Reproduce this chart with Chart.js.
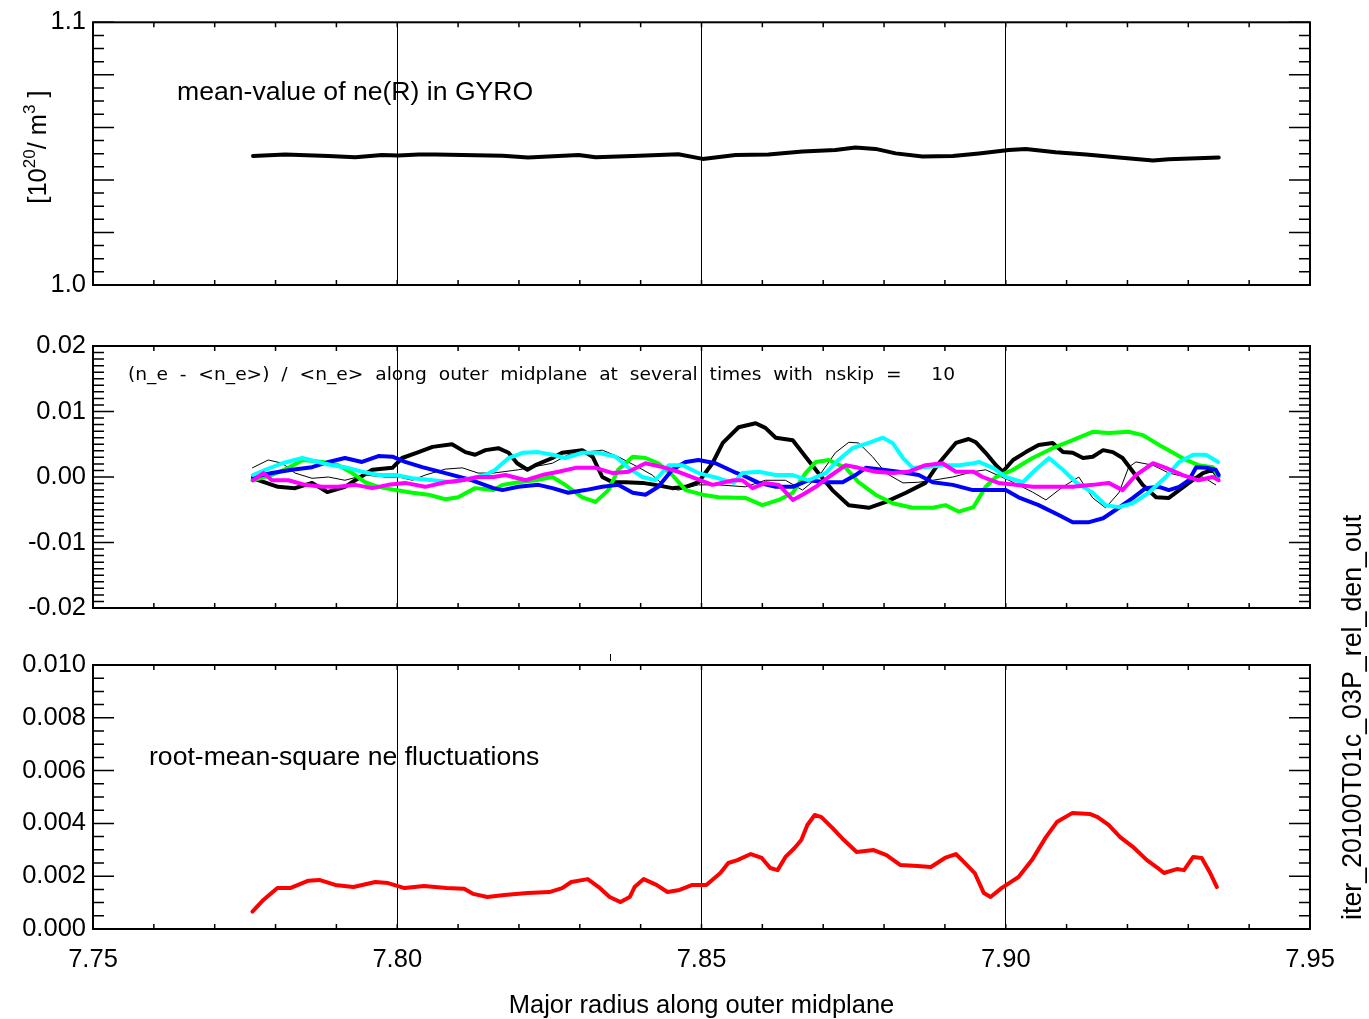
<!DOCTYPE html>
<html>
<head>
<meta charset="utf-8">
<title>iter_20100T01c_03P_rel_den_out</title>
<script src="https://cdn.jsdelivr.net/npm/chart.js"></script>
<style>
	body { margin: 0; background: #fff; }
	#wrap { position: relative; width: 1369px; height: 1019px; }
	#wrap canvas { position: absolute; left: 0; top: 0; }
</style>
</head>
<body>
<div id="wrap">
	<canvas id="mean" width="1369" height="1019"></canvas>
	<canvas id="fluct" width="1369" height="1019"></canvas>
	<canvas id="rms" width="1369" height="1019"></canvas>
</div>
<script>
// x axis (major radius) ticks
const xTicks = [7.75, 7.80, 7.85, 7.90, 7.95];

// top panel: mean ne(R)
const meanR = [7.7763, 7.7816, 7.7887, 7.7931, 7.7975, 7.8002, 7.8035, 7.8063, 7.8173, 7.8215, 7.8298, 7.8326, 7.8387, 7.8462, 7.8502, 7.8556, 7.8610, 7.8666, 7.8720, 7.8753, 7.8786, 7.8819, 7.8863, 7.8913, 7.8956, 7.9005, 7.9033, 7.9082, 7.9132, 7.9186, 7.9242, 7.9268, 7.9350];
const meanNe = [1.0491, 1.0497, 1.0491, 1.0486, 1.0495, 1.0493, 1.0497, 1.0497, 1.0492, 1.0485, 1.0495, 1.0486, 1.0491, 1.0498, 1.0480, 1.0495, 1.0497, 1.0508, 1.0514, 1.0523, 1.0518, 1.0501, 1.0489, 1.0491, 1.0501, 1.0514, 1.0518, 1.0505, 1.0497, 1.0485, 1.0474, 1.0479, 1.0485];
const meanTicks = [1.0, 1.1];

// middle panel: (ne - <ne>)/<ne> at several times
const rK = [7.7763, 7.7804, 7.7832, 7.7860, 7.7885, 7.7914, 7.7931, 7.7959, 7.7992, 7.8008, 7.8035, 7.8058, 7.8090, 7.8112, 7.8128, 7.8145, 7.8166, 7.8183, 7.8197, 7.8214, 7.8227, 7.8255, 7.8271, 7.8304, 7.8321, 7.8337, 7.8354, 7.8375, 7.8403, 7.8424, 7.8452, 7.8474, 7.8495, 7.8518, 7.8535, 7.8561, 7.8589, 7.8605, 7.8622, 7.8650, 7.8671, 7.8692, 7.8715, 7.8742, 7.8775, 7.8803, 7.8836, 7.8868, 7.8890, 7.8918, 7.8939, 7.8951, 7.8967, 7.8984, 7.8995, 7.9012, 7.9033, 7.9054, 7.9077, 7.9094, 7.9110, 7.9127, 7.9143, 7.9160, 7.9176, 7.9192, 7.9209, 7.9225, 7.9247, 7.9268, 7.9285, 7.9301, 7.9324, 7.9340, 7.9349];
const dK = [-0.0002, -0.0015, -0.0017, -0.0009, -0.0023, -0.0015, -0.0005, 0.0011, 0.0014, 0.0029, 0.0038, 0.0046, 0.0050, 0.0038, 0.0034, 0.0041, 0.0044, 0.0037, 0.0021, 0.0011, 0.0018, 0.0029, 0.0037, 0.0041, 0.0031, 0.0000, -0.0008, -0.0008, -0.0009, -0.0012, -0.0017, -0.0015, -0.0008, 0.0021, 0.0052, 0.0076, 0.0082, 0.0075, 0.0060, 0.0056, 0.0031, 0.0006, -0.0020, -0.0043, -0.0047, -0.0038, -0.0024, -0.0009, 0.0021, 0.0052, 0.0058, 0.0053, 0.0037, 0.0018, 0.0008, 0.0026, 0.0038, 0.0049, 0.0052, 0.0038, 0.0037, 0.0029, 0.0031, 0.0041, 0.0038, 0.0029, 0.0008, -0.0012, -0.0031, -0.0032, -0.0020, -0.0009, 0.0006, 0.0011, 0.0000];

const rT = [7.7762, 7.7788, 7.7811, 7.7832, 7.7860, 7.7887, 7.7914, 7.7947, 7.7980, 7.8002, 7.8025, 7.8046, 7.8079, 7.8107, 7.8133, 7.8158, 7.8199, 7.8255, 7.8281, 7.8309, 7.8337, 7.8363, 7.8396, 7.8419, 7.8441, 7.8462, 7.8495, 7.8528, 7.8572, 7.8605, 7.8638, 7.8666, 7.8692, 7.8720, 7.8742, 7.8758, 7.8781, 7.8803, 7.8831, 7.8857, 7.8880, 7.8913, 7.8946, 7.8967, 7.9005, 7.9044, 7.9066, 7.9094, 7.9120, 7.9143, 7.9164, 7.9186, 7.9202, 7.9214, 7.9242, 7.9268, 7.9296, 7.9324, 7.9345];
const dT = [0.0014, 0.0026, 0.0021, 0.0006, -0.0002, 0.0000, -0.0005, 0.0003, 0.0000, 0.0000, -0.0005, 0.0003, 0.0012, 0.0014, 0.0006, 0.0006, 0.0011, 0.0021, 0.0034, 0.0038, 0.0041, 0.0031, 0.0015, 0.0003, -0.0015, -0.0020, -0.0012, -0.0012, -0.0015, -0.0005, -0.0005, -0.0020, 0.0000, 0.0037, 0.0053, 0.0052, 0.0031, 0.0006, -0.0009, -0.0008, -0.0005, 0.0000, 0.0008, 0.0011, -0.0005, -0.0023, -0.0035, -0.0015, 0.0000, -0.0032, -0.0047, -0.0024, 0.0015, 0.0023, 0.0018, 0.0006, 0.0000, 0.0000, -0.0012];

const rG = [7.7762, 7.7794, 7.7821, 7.7845, 7.7877, 7.7903, 7.7926, 7.7947, 7.7969, 7.7997, 7.8025, 7.8051, 7.8079, 7.8100, 7.8128, 7.8158, 7.8173, 7.8199, 7.8227, 7.8255, 7.8276, 7.8304, 7.8326, 7.8347, 7.8363, 7.8387, 7.8408, 7.8429, 7.8452, 7.8474, 7.8502, 7.8528, 7.8572, 7.8600, 7.8627, 7.8650, 7.8671, 7.8688, 7.8709, 7.8737, 7.8758, 7.8786, 7.8814, 7.8847, 7.8880, 7.8901, 7.8923, 7.8947, 7.8967, 7.8984, 7.9012, 7.9044, 7.9077, 7.9099, 7.9120, 7.9143, 7.9169, 7.9202, 7.9225, 7.9252, 7.9275, 7.9296, 7.9317, 7.9340, 7.9350];
const dG = [-0.0005, 0.0003, 0.0014, 0.0026, 0.0023, 0.0018, 0.0006, -0.0008, -0.0015, -0.0020, -0.0024, -0.0027, -0.0034, -0.0031, -0.0017, -0.0020, -0.0012, -0.0008, -0.0005, 0.0000, -0.0012, -0.0031, -0.0038, -0.0020, 0.0011, 0.0031, 0.0029, 0.0021, 0.0003, -0.0020, -0.0027, -0.0031, -0.0032, -0.0043, -0.0035, -0.0024, 0.0006, 0.0023, 0.0026, 0.0014, -0.0008, -0.0027, -0.0040, -0.0047, -0.0047, -0.0043, -0.0053, -0.0046, -0.0015, 0.0000, 0.0011, 0.0029, 0.0044, 0.0052, 0.0060, 0.0069, 0.0067, 0.0069, 0.0064, 0.0049, 0.0037, 0.0026, 0.0018, 0.0015, 0.0000];

const rB = [7.7763, 7.7794, 7.7827, 7.7860, 7.7887, 7.7914, 7.7942, 7.7969, 7.7992, 7.8013, 7.8041, 7.8079, 7.8123, 7.8158, 7.8173, 7.8199, 7.8232, 7.8255, 7.8281, 7.8309, 7.8337, 7.8363, 7.8387, 7.8408, 7.8429, 7.8452, 7.8474, 7.8495, 7.8523, 7.8553, 7.8567, 7.8594, 7.8622, 7.8650, 7.8676, 7.8704, 7.8732, 7.8753, 7.8770, 7.8798, 7.8824, 7.8857, 7.8880, 7.8913, 7.8946, 7.8979, 7.9000, 7.9021, 7.9054, 7.9087, 7.9110, 7.9137, 7.9160, 7.9181, 7.9209, 7.9230, 7.9252, 7.9268, 7.9285, 7.9301, 7.9313, 7.9329, 7.9345, 7.9350];
const dB = [0.0000, 0.0006, 0.0011, 0.0015, 0.0023, 0.0029, 0.0023, 0.0032, 0.0031, 0.0023, 0.0015, 0.0006, -0.0005, -0.0017, -0.0020, -0.0015, -0.0012, -0.0017, -0.0024, -0.0020, -0.0015, -0.0012, -0.0024, -0.0027, -0.0015, 0.0011, 0.0023, 0.0026, 0.0021, 0.0008, 0.0003, -0.0009, -0.0015, -0.0015, -0.0005, -0.0008, -0.0008, 0.0003, 0.0014, 0.0011, 0.0008, 0.0003, -0.0008, -0.0012, -0.0020, -0.0020, -0.0020, -0.0031, -0.0043, -0.0058, -0.0069, -0.0069, -0.0063, -0.0050, -0.0032, -0.0017, -0.0015, -0.0020, -0.0015, -0.0005, 0.0015, 0.0014, 0.0011, 0.0003];

const rC = [7.7763, 7.7783, 7.7811, 7.7844, 7.7870, 7.7893, 7.7914, 7.7942, 7.7969, 7.7997, 7.8025, 7.8058, 7.8090, 7.8123, 7.8145, 7.8161, 7.8183, 7.8206, 7.8232, 7.8255, 7.8276, 7.8304, 7.8331, 7.8359, 7.8380, 7.8403, 7.8424, 7.8446, 7.8469, 7.8495, 7.8528, 7.8553, 7.8567, 7.8594, 7.8622, 7.8650, 7.8676, 7.8704, 7.8725, 7.8748, 7.8775, 7.8798, 7.8814, 7.8831, 7.8847, 7.8868, 7.8896, 7.8923, 7.8947, 7.8956, 7.8979, 7.9000, 7.9028, 7.9049, 7.9071, 7.9094, 7.9115, 7.9143, 7.9164, 7.9186, 7.9209, 7.9235, 7.9263, 7.9285, 7.9308, 7.9329, 7.9349];
const dC = [0.0003, 0.0011, 0.0021, 0.0029, 0.0023, 0.0018, 0.0015, 0.0008, 0.0003, 0.0003, -0.0002, -0.0005, -0.0008, -0.0002, 0.0003, 0.0011, 0.0029, 0.0037, 0.0038, 0.0034, 0.0029, 0.0037, 0.0037, 0.0031, 0.0014, 0.0000, -0.0005, 0.0018, 0.0018, 0.0006, -0.0002, -0.0009, 0.0006, 0.0008, 0.0003, 0.0003, -0.0005, 0.0006, 0.0026, 0.0044, 0.0052, 0.0060, 0.0052, 0.0029, 0.0014, 0.0015, 0.0018, 0.0018, 0.0021, 0.0023, 0.0014, 0.0000, -0.0008, 0.0011, 0.0029, 0.0011, -0.0008, -0.0024, -0.0043, -0.0046, -0.0040, -0.0024, 0.0000, 0.0023, 0.0034, 0.0034, 0.0023];

const rM = [7.7763, 7.7780, 7.7794, 7.7821, 7.7849, 7.7877, 7.7903, 7.7931, 7.7959, 7.7985, 7.8013, 7.8046, 7.8079, 7.8107, 7.8133, 7.8158, 7.8178, 7.8211, 7.8238, 7.8265, 7.8293, 7.8326, 7.8354, 7.8380, 7.8408, 7.8436, 7.8462, 7.8490, 7.8518, 7.8553, 7.8567, 7.8584, 7.8605, 7.8627, 7.8650, 7.8666, 7.8688, 7.8709, 7.8737, 7.8758, 7.8786, 7.8814, 7.8840, 7.8868, 7.8896, 7.8918, 7.8947, 7.8962, 7.8988, 7.9016, 7.9044, 7.9077, 7.9110, 7.9143, 7.9169, 7.9192, 7.9214, 7.9242, 7.9263, 7.9291, 7.9317, 7.9340, 7.9350];
const dM = [-0.0005, 0.0006, -0.0005, -0.0005, -0.0012, -0.0015, -0.0015, -0.0012, -0.0017, -0.0012, -0.0009, -0.0015, -0.0008, -0.0005, 0.0000, 0.0000, 0.0003, -0.0005, 0.0003, 0.0008, 0.0014, 0.0014, 0.0006, 0.0008, 0.0021, 0.0015, 0.0008, -0.0002, -0.0012, -0.0005, -0.0005, -0.0017, -0.0009, -0.0012, -0.0035, -0.0027, -0.0015, 0.0000, 0.0018, 0.0014, 0.0008, 0.0006, 0.0008, 0.0018, 0.0021, 0.0008, 0.0008, 0.0000, -0.0009, -0.0012, -0.0015, -0.0015, -0.0015, -0.0012, -0.0009, -0.0020, 0.0003, 0.0021, 0.0014, 0.0003, -0.0005, 0.0000, -0.0005];
const fluctTicks = [-0.02, -0.01, 0.00, 0.01, 0.02];

// bottom panel: rms fluctuations
const rRms = [7.7762, 7.7780, 7.7803, 7.7824, 7.7854, 7.7872, 7.7898, 7.7928, 7.7964, 7.7985, 7.8012, 7.8044, 7.8081, 7.8110, 7.8125, 7.8148, 7.8176, 7.8214, 7.8250, 7.8271, 7.8286, 7.8313, 7.8331, 7.8349, 7.8367, 7.8382, 7.8390, 7.8405, 7.8426, 7.8444, 7.8464, 7.8485, 7.8508, 7.8531, 7.8544, 7.8559, 7.8581, 7.8599, 7.8613, 7.8625, 7.8638, 7.8653, 7.8664, 7.8674, 7.8686, 7.8697, 7.8715, 7.8734, 7.8755, 7.8783, 7.8804, 7.8827, 7.8855, 7.8877, 7.8900, 7.8918, 7.8931, 7.8949, 7.8964, 7.8975, 7.8993, 7.9021, 7.9043, 7.9066, 7.9084, 7.9109, 7.9138, 7.9151, 7.9169, 7.9188, 7.9211, 7.9232, 7.9250, 7.9260, 7.9281, 7.9293, 7.9308, 7.9322, 7.9336, 7.9347];
const rms = [0.00066, 0.00110, 0.00155, 0.00155, 0.00183, 0.00186, 0.00167, 0.00159, 0.00178, 0.00174, 0.00155, 0.00163, 0.00155, 0.00152, 0.00133, 0.00121, 0.00129, 0.00136, 0.00140, 0.00155, 0.00178, 0.00189, 0.00159, 0.00121, 0.00102, 0.00121, 0.00159, 0.00189, 0.00167, 0.00140, 0.00148, 0.00167, 0.00167, 0.00212, 0.00250, 0.00261, 0.00284, 0.00269, 0.00231, 0.00223, 0.00273, 0.00307, 0.00337, 0.00394, 0.00432, 0.00424, 0.00383, 0.00337, 0.00292, 0.00299, 0.00280, 0.00242, 0.00239, 0.00235, 0.00269, 0.00284, 0.00254, 0.00212, 0.00136, 0.00121, 0.00155, 0.00197, 0.00261, 0.00348, 0.00405, 0.00439, 0.00436, 0.00424, 0.00394, 0.00348, 0.00307, 0.00261, 0.00231, 0.00212, 0.00227, 0.00223, 0.00273, 0.00269, 0.00212, 0.00159];
const rmsTicks = [0.000, 0.002, 0.004, 0.006, 0.008, 0.010];

const FONT = '"Liberation Sans", Arial, Helvetica, sans-serif';
Chart.defaults.font.family = FONT;
Chart.defaults.color = '#000';

function pts(xs, ys) {
	return xs.map((x, i) => ({ x: x, y: ys[i] }));
}
function line(color, xs, ys, w) {
	return { data: pts(xs, ys), borderColor: color, backgroundColor: color, borderWidth: w, pointRadius: 0, tension: 0, fill: false, borderJoinStyle: 'round', borderCapStyle: 'round' };
}

// IDL style frame: inward ticks on all four sides plus the annotation texts
function idlFrame(p) {
	return {
		id: 'idlFrame',
		afterDatasetsDraw(chart) {
			const ctx = chart.ctx, a = chart.chartArea, x = chart.scales.x, y = chart.scales.y;
			ctx.save();
			ctx.strokeStyle = '#000';
			ctx.lineWidth = 1.5;
			ctx.beginPath();
			const n = Math.round((p.yMax - p.yMin) / p.yStep);
			for (let i = 0; i <= n; i++) {
				const py = y.getPixelForValue(p.yMin + i * p.yStep);
				const len = i % p.ySub === 0 ? 21 : 11;
				ctx.moveTo(a.left, py); ctx.lineTo(a.left + len, py);
				ctx.moveTo(a.right - len, py); ctx.lineTo(a.right, py);
			}
			for (let i = 0; i <= 20; i++) {
				const px = x.getPixelForValue(7.75 + i * 0.01);
				ctx.moveTo(px, a.top); ctx.lineTo(px, a.top + 5);
				ctx.moveTo(px, a.bottom); ctx.lineTo(px, a.bottom - 5);
			}
			ctx.stroke();
			ctx.lineWidth = 2;
			ctx.strokeRect(a.left, a.top, a.right - a.left, a.bottom - a.top);
			ctx.fillStyle = '#000';
			if (p.text) p.text(ctx, chart);
			ctx.restore();
		}
	};
}

function panel(id, datasets, p) {
	return new Chart(document.getElementById(id), {
		type: 'line',
		data: { datasets: datasets },
		options: {
			responsive: false,
			animation: false,
			devicePixelRatio: 1,
			layout: { padding: { left: 0, right: 59, top: p.top, bottom: 0 } },
			plugins: { legend: { display: false }, tooltip: { enabled: false } },
			scales: {
				x: {
					type: 'linear', min: 7.75, max: 7.95,
					afterBuildTicks: s => { s.ticks = xTicks.map(v => ({ value: v })); },
					afterFit: s => { s.height = 1019 - p.bottom; },
					grid: { color: '#000', lineWidth: 1, drawTicks: false },
					border: { color: '#000', width: 1.5 },
					ticks: { display: p.showX, padding: 16, font: { size: 25.5 }, color: '#000', maxRotation: 0, callback: v => v.toFixed(2) },
					title: { display: p.showX, text: 'Major radius along outer midplane', font: { size: 25.5 }, color: '#000', padding: { top: 0, bottom: -2 } }
				},
				y: {
					type: 'linear', min: p.yMin, max: p.yMax,
					afterBuildTicks: s => { s.ticks = p.labels.map(v => ({ value: v })); },
					afterFit: s => { s.width = 93; },
					grid: { display: false, drawTicks: false },
					border: { color: '#000', width: 1.5 },
					ticks: { padding: 7, font: { size: 25.5 }, color: '#000', callback: v => v.toFixed(p.digits) }
				}
			}
		},
		plugins: [idlFrame(p)]
	});
}

panel('mean', [line('#000000', meanR, meanNe, 4)], {
	top: 19, bottom: 285, yMin: 1.0, yMax: 1.1, yStep: 0.005, ySub: 4, labels: meanTicks, digits: 1, showX: false,
	text(ctx) {
		ctx.font = '26.6px ' + FONT;
		ctx.textAlign = 'left';
		ctx.fillText('mean-value of ne(R) in GYRO', 177, 100);
		// [10^20/ m^3 ]
		ctx.translate(46, 147);
		ctx.rotate(-Math.PI / 2);
		const parts = [['[10', false], ['20', true], ['/ m', false], ['3', true], [' ]', false]];
		const big = '25.5px ' + FONT, small = '17px ' + FONT;
		let w = 0;
		parts.forEach(q => { ctx.font = q[1] ? small : big; w += ctx.measureText(q[0]).width; });
		let cx = -w / 2;
		parts.forEach(q => {
			ctx.font = q[1] ? small : big;
			ctx.fillText(q[0], cx, q[1] ? -11 : 0);
			cx += ctx.measureText(q[0]).width;
		});
	}
});

panel('fluct', [
	line('#ff00ff', rM, dM, 4),
	line('#00ffff', rC, dC, 4),
	line('#0000ff', rB, dB, 4),
	line('#00ff00', rG, dG, 4),
	line('#000000', rT, dT, 1),
	line('#000000', rK, dK, 4)
], {
	top: 346, bottom: 608, yMin: -0.02, yMax: 0.02, yStep: 0.001, ySub: 10, labels: fluctTicks, digits: 2, showX: false,
	text(ctx) {
		const note = '(n_e  -  <n_e>)  /  <n_e>  along  outer  midplane  at  several  times  with  nskip  =     10';
		ctx.font = '18px "DejaVu Sans", sans-serif';
		ctx.textAlign = 'left';
		const w = ctx.measureText(note).width;
		ctx.translate(128, 380);
		ctx.scale(827 / w, 1);
		ctx.fillStyle = '#000';
		ctx.fillText(note, 0, 0);
	}
});

panel('rms', [line('#ff0000', rRms, rms, 4)], {
	top: 665, bottom: 929, yMin: 0, yMax: 0.01, yStep: 0.0005, ySub: 4, labels: rmsTicks, digits: 3, showX: true,
	text(ctx, chart) {
		// small stray tick above the panel, as in the original plot
		const sx = Math.round(chart.scales.x.getPixelForValue(7.835)) + 0.5;
		ctx.lineWidth = 1;
		ctx.beginPath(); ctx.moveTo(sx, 654); ctx.lineTo(sx, 661); ctx.stroke();
		ctx.font = '26.6px ' + FONT;
		ctx.textAlign = 'left';
		ctx.fillText('root-mean-square ne fluctuations', 149, 765);
		ctx.translate(1361, 920);
		ctx.rotate(-Math.PI / 2);
		ctx.font = '26.8px ' + FONT;
		ctx.fillText('iter_20100T01c_03P_rel_den_out', 0, 0);
	}
});
</script>
</body>
</html>
